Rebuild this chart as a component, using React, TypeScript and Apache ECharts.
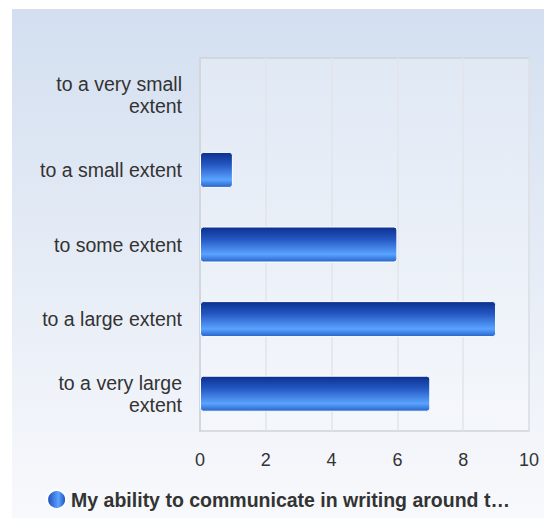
import React, { useEffect, useRef } from "react";
import * as echarts from "echarts";

const categories = [
  "to a very large extent",
  "to a large extent",
  "to some extent",
  "to a small extent",
  "to a very small extent",
];
const values = [7, 9, 6, 1, 0];
const seriesName = "My ability to communicate in writing around t…";
const xTicks = [0, 2, 4, 6, 8, 10];

const FONT = "'Liberation Sans', Arial, Helvetica, sans-serif";

export default function App() {
  const ref = useRef<HTMLDivElement>(null);
  useEffect(() => {
    if (!ref.current) return;
    const chart = echarts.init(ref.current, undefined, { renderer: "svg" });
    const barGrad = new echarts.graphic.LinearGradient(0, 0, 0, 1, [
      { offset: 0, color: "#0b2f8e" },
      { offset: 0.35, color: "#2457c2" },
      { offset: 0.78, color: "#5aa3ff" },
      { offset: 1, color: "#2563c9" },
    ]);
    const legendGrad = new echarts.graphic.LinearGradient(0, 0, 1, 0, [
      { offset: 0, color: "#1a49b8" },
      { offset: 0.6, color: "#5aa3ff" },
      { offset: 1, color: "#1a49b8" },
    ]);
    chart.setOption({
      animation: false,
      backgroundColor: new echarts.graphic.LinearGradient(0, 0, 0, 1, [
        { offset: 0, color: "#d3dff0" },
        { offset: 1, color: "#f8f9fc" },
      ]),
      textStyle: { fontFamily: FONT },
      grid: {
        left: 188,
        right: 15,
        top: 49,
        bottom: 87,
        show: true,
        backgroundColor: "rgba(255,255,255,0.25)",
        borderColor: "#cfd2d8",
        borderWidth: 1.5,
      },
      legend: {
        bottom: 3,
        left: "center",
        icon: "circle",
        itemWidth: 19,
        itemHeight: 19,
        itemGap: 8,
        textStyle: { fontFamily: FONT, fontSize: 19.5, fontWeight: "bold", color: "#333" },
        data: [{ name: seriesName, itemStyle: { color: legendGrad } }],
      },
      xAxis: {
        type: "value",
        min: 0,
        max: 10,
        interval: 2,
        axisLine: { show: false },
        axisTick: { show: false },
        splitLine: { show: true, lineStyle: { color: "#e2e4e8", width: 1.5 } },
        axisLabel: {
          fontFamily: FONT,
          fontSize: 18,
          color: "#333",
          margin: 20,
          formatter: (v: number) => (xTicks.includes(v) ? String(v) : ""),
        },
      },
      yAxis: {
        type: "category",
        data: categories,
        axisLine: { show: true, lineStyle: { color: "#cfd2d8", width: 1.5 } },
        axisTick: { show: false },
        axisLabel: {
          fontFamily: FONT,
          fontSize: 19.5,
          color: "#333",
          margin: 18,
          lineHeight: 22,
          align: "right",
          formatter: (v: string) =>
            v.length > 18 ? v.replace(/ extent$/, "\nextent") : v,
        },
      },
      series: [
        {
          type: "bar",
          name: seriesName,
          data: values.map((v) =>
            v === 0 ? { value: v, itemStyle: { borderWidth: 0 } } : v
          ),
          barWidth: 36,
          itemStyle: {
            color: barGrad,
            borderColor: "#ffffff",
            borderWidth: 1,
            borderRadius: 3,
          },
        },
      ],
    });
    return () => chart.dispose();
  }, []);
  return (
    <div
      ref={ref}
      style={{ position: "absolute", left: 12, top: 9, width: 532, height: 509 }}
    />
  );
}
